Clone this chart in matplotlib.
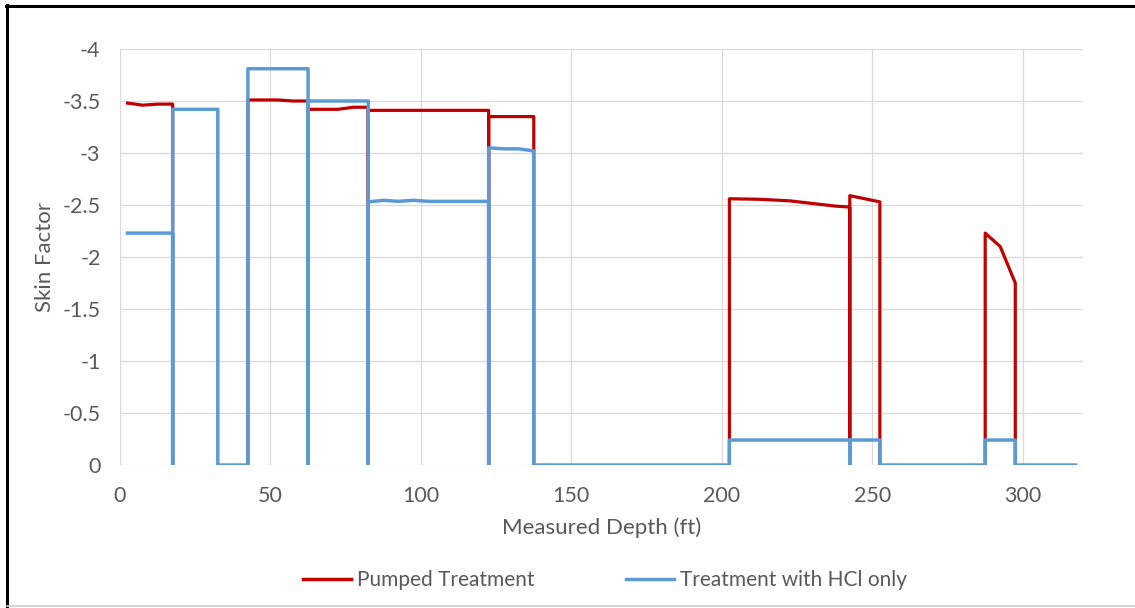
import numpy as np
import matplotlib
matplotlib.use("Agg")
import matplotlib.pyplot as plt
from matplotlib.lines import Line2D

plt.rcParams['font.family'] = ['Lato', 'DejaVu Sans']

nan = np.nan

# Pumped treatment skin profile (NaN breaks the line between treated zones)
pumped_depth = [2.5, 7.5, 12.5, 17.5, 17.5, nan,
                42.5, 42.5, 52.5, 57.5, 62.5, 62.5,
                62.5, 72.5, 77.5, 82.5, 82.5,
                82.5, 122.5, 122.5,
                122.5, 137.5, 137.5, nan,
                202.5, 202.5, 212.5, 222.5, 237.5, 242.5, 242.5,
                242.5, 252.5, 252.5, nan,
                287.5, 287.5, 292.5, 297.5, 297.5]
pumped_skin = [-3.48, -3.46, -3.47, -3.47, 0, nan,
               0, -3.51, -3.51, -3.50, -3.50, 0,
               -3.42, -3.42, -3.44, -3.44, 0,
               -3.41, -3.41, 0,
               -3.35, -3.35, 0, nan,
               0, -2.56, -2.555, -2.54, -2.49, -2.48, 0,
               -2.59, -2.53, 0, nan,
               0, -2.23, -2.10, -1.75, 0]

# HCl-only treatment skin profile
hcl_depth = [2.5, 17.5, 17.5, 17.5, 32.5, 32.5, 42.5, 42.5, 62.5, 62.5,
             62.5, 82.5, 82.5, 82.5, 87.5, 92.5, 97.5, 102.5, 122.5, 122.5,
             122.5, 127.5, 132.5, 137.5, 137.5, 202.5, 202.5, 242.5, 242.5,
             242.5, 252.5, 252.5, 287.5, 287.5, 297.5, 297.5, 317.5]
hcl_skin = [-2.23, -2.23, 0, -3.42, -3.42, 0, 0, -3.81, -3.81, 0,
            -3.50, -3.50, 0, -2.53, -2.545, -2.535, -2.545, -2.535, -2.535, 0,
            -3.05, -3.04, -3.04, -3.02, 0, 0, -0.24, -0.24, 0,
            -0.24, -0.24, 0, 0, -0.24, -0.24, 0, 0]

x_ticks = [0, 50, 100, 150, 200, 250, 300]
y_ticks = [0, -0.5, -1, -1.5, -2, -2.5, -3, -3.5, -4]
y_tick_labels = ['0', '-0.5', '-1', '-1.5', '-2', '-2.5', '-3', '-3.5', '-4']

W, H = 1135, 608
fig = plt.figure(figsize=(W / 100, H / 100), dpi=100)
ax = fig.add_axes([120 / W, (H - 465) / H, (1083 - 120) / W, (465 - 49) / H])

text_color = '#595959'
grid_color = '#D9D9D9'

ax.plot(pumped_depth, pumped_skin, color='#C00000', lw=2.3,
        label='Pumped Treatment', zorder=3, solid_joinstyle='round')
ax.plot(hcl_depth, hcl_skin, color='#5B9BD5', lw=2.5,
        label='Treatment with HCl only', zorder=4, solid_joinstyle='round')

ax.set_xlim(0, 320)
ax.set_ylim(0, -4)
ax.set_xticks(x_ticks)
ax.set_yticks(y_ticks)
ax.set_yticklabels(y_tick_labels)

for s in ax.spines.values():
    s.set_visible(False)
ax.grid(True, color=grid_color, lw=0.9, zorder=0)
ax.set_axisbelow(True)
ax.tick_params(length=0, labelsize=15.5, colors=text_color)
ax.tick_params(axis='x', pad=15)
ax.tick_params(axis='y', pad=14)

ax.set_xlabel('Measured Depth (ft)', fontsize=16, color=text_color, labelpad=8)
ax.set_ylabel('Skin Factor', fontsize=16, color=text_color, labelpad=5)

leg = fig.legend(loc='center', bbox_to_anchor=(605 / W, 1 - 580 / H), ncol=2,
                 frameon=False, fontsize=15, handlelength=2.3,
                 handletextpad=0.3, columnspacing=4.4)
for t in leg.get_texts():
    t.set_color(text_color)
for h in leg.legend_handles:
    h.set_linewidth(2.5)

# Outer chart frame
fig.add_artist(Line2D([7 / W, 7 / W], [0, 1 - 5 / H], transform=fig.transFigure,
                      color='black', lw=2.2))
fig.add_artist(Line2D([6 / W, 1], [1 - 5.5 / H, 1 - 5.5 / H], transform=fig.transFigure,
                      color='black', lw=2.2))
fig.add_artist(Line2D([7 / W, 1], [1 - 606 / H, 1 - 606 / H], transform=fig.transFigure,
                      color='#D0D0D0', lw=1.2))

fig.savefig('out.png', dpi=100, facecolor='white')
